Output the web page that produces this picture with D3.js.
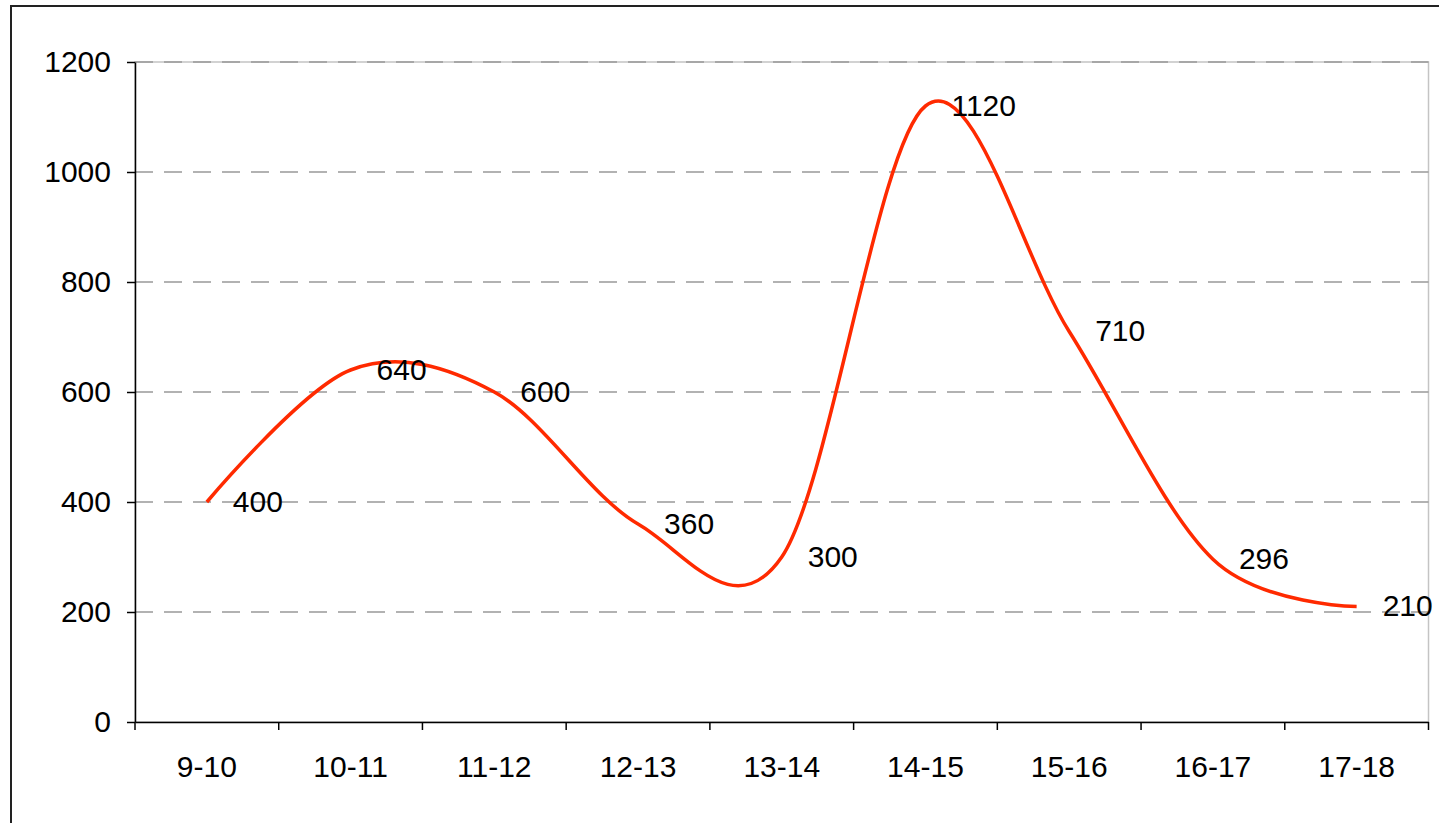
<!DOCTYPE html>
<html>
<head>
<meta charset="utf-8">
<script src="https://cdn.jsdelivr.net/npm/d3@7"></script>
<style>
  html, body { margin: 0; padding: 0; background: #fff; }
  svg { display: block; font-family: "Liberation Sans", Arial, sans-serif; }
</style>
</head>
<body>
<svg id="chart" width="1439" height="823"></svg>
<script>
// chart data
const categories = ["9-10", "10-11", "11-12", "12-13", "13-14", "14-15", "15-16", "16-17", "17-18"];
const values = [400, 640, 600, 360, 300, 1120, 710, 296, 210];
const yTicks = [0, 200, 400, 600, 800, 1000, 1200];

const margin = { top: 62, right: 10.5, bottom: 101, left: 135 };
const width = 1439, height = 823;
const fontSize = 30;

const svg = d3.select("#chart");

// outer frame
svg.append("rect")
	.attr("x", 11)
	.attr("y", 6)
	.attr("width", 1460)
	.attr("height", 860)
	.attr("fill", "none")
	.attr("stroke", "#222")
	.attr("stroke-width", 2);

const x = d3.scaleBand()
	.domain(categories)
	.range([margin.left, width - margin.right])
	.padding(0);

const y = d3.scaleLinear()
	.domain([0, 1200])
	.range([height - margin.bottom, margin.top]);

// plot area border
svg.append("rect")
	.attr("x", margin.left)
	.attr("y", margin.top)
	.attr("width", x.range()[1] - margin.left)
	.attr("height", y(0) - margin.top)
	.attr("fill", "none")
	.attr("stroke", "#c4c4c4")
	.attr("stroke-width", 1.5);

// dashed gridlines
svg.append("g")
	.selectAll("line")
	.data(yTicks.filter(d => d > 0))
	.join("line")
	.attr("x1", margin.left)
	.attr("x2", x.range()[1])
	.attr("y1", d => y(d))
	.attr("y2", d => y(d))
	.attr("stroke", "#999")
	.attr("stroke-width", 1.5)
	.attr("stroke-dasharray", "18,11");

// y axis
const yAxis = svg.append("g")
	.attr("transform", "translate(" + margin.left + ",0)")
	.call(d3.axisLeft(y).tickValues(yTicks).tickFormat(d3.format("d"))
		.tickSize(8).tickPadding(16).tickSizeOuter(0));
yAxis.select(".domain").attr("stroke", "#000").attr("stroke-width", 1.5);
yAxis.selectAll(".tick line").attr("stroke", "#000").attr("stroke-width", 1.5);
yAxis.selectAll("text").attr("font-size", fontSize).attr("fill", "#000")
	.attr("font-family", "Liberation Sans, Arial, sans-serif");

// x axis labels
const xAxis = svg.append("g")
	.attr("transform", "translate(0," + y(0) + ")")
	.call(d3.axisBottom(x).tickSize(0).tickPadding(34).tickSizeOuter(0));
xAxis.select(".domain").attr("stroke", "#000").attr("stroke-width", 1.5);
xAxis.selectAll("text").attr("font-size", fontSize).attr("fill", "#000")
	.attr("font-family", "Liberation Sans, Arial, sans-serif");

// x ticks at category boundaries
const boundaries = categories.map(c => x(c)).concat([x.range()[1]]);
svg.append("g")
	.selectAll("line")
	.data(boundaries)
	.join("line")
	.attr("x1", d => d)
	.attr("x2", d => d)
	.attr("y1", y(0))
	.attr("y2", y(0) + 8)
	.attr("stroke", "#000")
	.attr("stroke-width", 1.5);

// smoothed line
const pts = categories.map((c, i) => [x(c) + x.bandwidth() / 2, y(values[i])]);
const line = d3.line().curve(d3.curveCardinal.tension(0));

svg.append("path")
	.attr("d", line(pts))
	.attr("fill", "none")
	.attr("stroke", "#ff2a00")
	.attr("stroke-width", 3.5)
	.attr("stroke-linejoin", "round");

// data labels
svg.append("g")
	.selectAll("text")
	.data(values)
	.join("text")
	.attr("x", (d, i) => x(categories[i]) + x.bandwidth() / 2 + 26)
	.attr("y", d => y(d))
	.attr("dy", "0.32em")
	.attr("font-size", fontSize)
	.attr("fill", "#000")
	.text(d => d);
</script>
</body>
</html>
